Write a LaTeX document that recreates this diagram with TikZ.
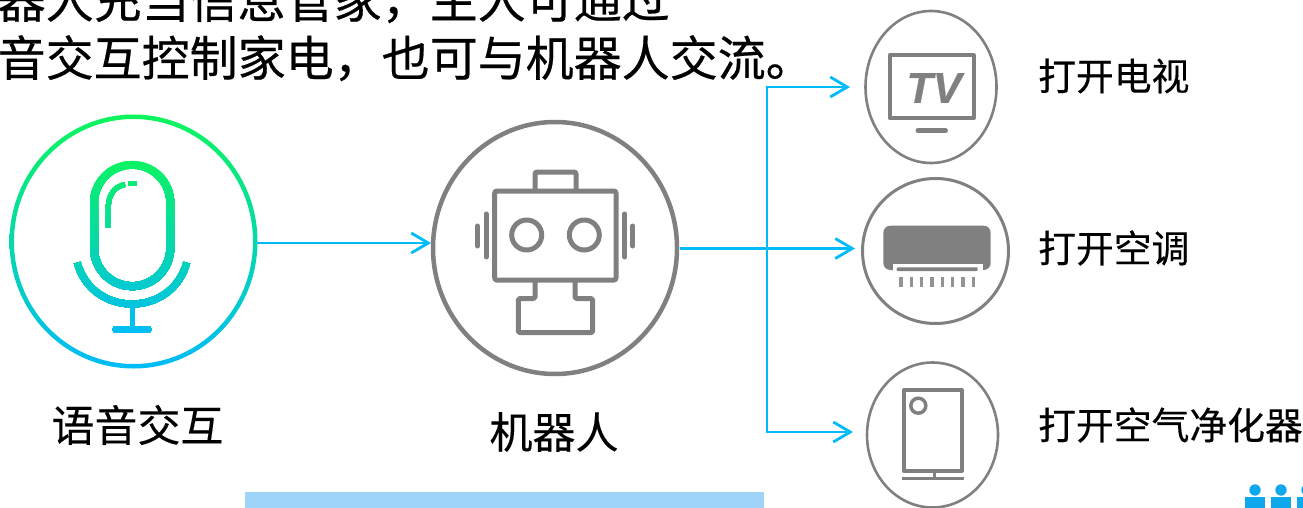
\documentclass[tikz,border=0pt]{standalone}
\usepackage{fontspec}
\setmainfont[FakeBold=0.25]{Noto Sans CJK SC}
\newfontfamily\headfont[FakeBold=0.45]{Noto Sans CJK SC}
\newfontfamily\tvfont[FakeBold=0.6]{Liberation Sans}
\usetikzlibrary{arrows.meta,shapes.geometric,calc}
\definecolor{flowblue}{HTML}{00BBF9}
\definecolor{icongray}{HTML}{808080}
\definecolor{micgreen}{HTML}{0DF55C}
\definecolor{barblue}{HTML}{9ED4F8}
\definecolor{peopleblue}{HTML}{10A8EC}
\tikzset{
  x=1pt,y=-1pt,
  ring/.style={ellipse,draw=icongray,outer sep=0pt,inner sep=0pt},
  flow/.style={draw=flowblue,line width=2.6pt},
  flowtip/.tip={Straight Barb[length=17pt,width=20pt,line width=2.8pt]},
  iconline/.style={draw=icongray,line width=5pt,line join=round},
  micline/.style={line join=round},
  lab/.style={anchor=center,inner sep=0pt,text=black}
}
\newcommand{\txt}[2]{{\fontsize{#1}{#1}\selectfont #2}}
\newcommand{\micstrokes}{%
  \draw[micline,line width=8pt] (94,203) arc[start angle=180,end angle=360,x radius=38.15,y radius=38.15] -- (170.3,248) arc[start angle=0,end angle=180,x radius=38.15,y radius=38.15] -- cycle;
  \draw[micline,line width=5pt] (108.3,227.3) -- (108.3,207) .. controls (108.3,195) and (115,186) .. (125,184.5);
  \draw[micline,line width=5pt] (128.3,183.5) -- (136.7,183.5);
  \draw[micline,line width=7pt] (77.3,262.7) .. controls (84,288) and (106,304) .. (132,304) .. controls (158,304) and (180,288) .. (186.7,262.7);
  \draw[micline,line width=5pt] (132,304) -- (132,329);
  \draw[micline,line width=7pt,line cap=round] (116,329.3) -- (148,329.3);
}
\begin{document}
\begin{tikzpicture}
\useasboundingbox (0,0) rectangle (1303,508);
\clip (0,0) rectangle (1303,508);

% header text
\node[lab,anchor=base west] (headone) at (-2.5,18) {\headfont\txt{48}{器人充当信息管家，主人可通过}};
\node[lab,anchor=base west] (headtwo) at (-2.5,76) {\headfont\txt{48}{音交互控制家电，也可与机器人交流。}};

% bottom bar and people
\fill[barblue] (245,492) rectangle (764,508);
\foreach \px in {1255,1281,1307}{
  \fill[peopleblue] (\px,490) circle[radius=5.7];
  \fill[peopleblue] (\px-10,497) rectangle (\px+10,508);
}

% voice circle
\node[ellipse,inner sep=0pt,outer sep=0pt,minimum width=246pt,minimum height=253pt] (mic) at (133.5,241.5) {};
\shade[even odd rule,top color=micgreen,bottom color=flowblue]
  (133.5,241.5) ellipse[x radius=124,y radius=127] (133.5,241.5) ellipse[x radius=119.5,y radius=122.5];
% microphone, gradient stroked by overlapping horizontal strips
\foreach \strip in {0,...,59}{
  \pgfmathsetmacro{\stripy}{158+\strip*3}
  \pgfmathsetmacro{\mixv}{max(0,min(100,100-(\stripy-150)/1.85))}
  \colorlet{stripcolor}{micgreen!\mixv!flowblue}
  \begin{scope}
    \clip (60,\stripy) rectangle (204,340);
    \begin{scope}[color=stripcolor]
      \micstrokes
    \end{scope}
  \end{scope}
}

% robot
\node[ring,line width=4.5pt,minimum width=244pt,minimum height=252pt] (robot) at (555,248) {};
\draw[iconline,rounded corners=2pt] (494.7,191) rectangle (616,280);
\draw[iconline,rounded corners=2pt] (535,191) -- (535,172) -- (576,172) -- (576,191);
\draw[iconline] (526.7,235) circle[radius=15];
\draw[iconline] (584.3,235) circle[radius=15];
\draw[iconline,line cap=round] (486,214) -- (486,257);
\draw[iconline,line cap=round] (477.3,226) -- (477.3,246);
\draw[iconline,line cap=round] (624.7,214) -- (624.7,257);
\draw[iconline,line cap=round] (632.7,226) -- (632.7,246);
\draw[iconline,rounded corners=1.5pt] (535,280) -- (535,298.5) -- (518.3,298.5) -- (518.3,332.7) -- (592.7,332.7) -- (592.7,298.5) -- (575,298.5) -- (575,280);

% TV
\node[ring,line width=2.6pt,minimum width=131pt,minimum height=152pt] (tv) at (931,87) {};
\draw[iconline,line width=4pt] (889.7,55.3) rectangle (973.7,118);
\draw[iconline,line width=5pt,line cap=round] (918,130.5) -- (945.5,130.5);
\node[lab,text=icongray] (tvtext) at (934,88) {\txt{43}{\tvfont\bfseries\itshape TV}};

% air conditioner
\node[ring,line width=3pt,minimum width=146pt,minimum height=145pt] (ac) at (935.5,251) {};
\fill[icongray,rounded corners=7pt] (883.3,225.7) rectangle (990.7,270);
\fill[white] (892.7,264) rectangle (983.3,273);
\fill[icongray,rounded corners=1pt] (896.7,267.3) rectangle (977.7,271);
\foreach \lx in {0,...,7}{
  \fill[icongray!85] ({901+10.33*\lx-1.6},276.7) rectangle ({901+10.33*\lx+1.6},286.7);
}

% purifier
\node[ring,line width=2.6pt,minimum width=131pt,minimum height=145pt] (pur) at (932.5,435) {};
\draw[iconline,line width=4pt] (903.7,390.3) rectangle (962,470.7);
\draw[iconline,line width=3.5pt] (918.3,405.7) circle[radius=7.5];
\draw[iconline,line width=3pt] (934.3,472) -- (934.3,478);
\draw[iconline,line width=3.5pt] (902,478.7) -- (964,478.7);

% connector ends
\coordinate (micout) at ($(mic.east)+(0,1.5)$);
\coordinate (robin) at (431,243);
\coordinate (robout) at (680,248.5);
\coordinate (acin) at (855,248.5);
\coordinate (jt) at (767,87);
\coordinate (jb) at (767,432);
\coordinate (tvin) at (850,87);
\coordinate (purin) at (853,432);

\draw[flow,-{flowtip}] (micout) -- (robin);
\draw[flow,-{flowtip}] (robout) -- (acin);
\draw[flow,{flowtip}-{flowtip}] (tvin) -- (jt) -- (jb) -- (purin);

% labels
\node[lab] (lvoice) at (137.5,425) {\txt{43}{语音交互}};
\node[lab] (lrobot) at (554,432) {\txt{43}{机器人}};
\node[lab,anchor=west] (ltv) at (1038,76) {\txt{37.8}{打开电视}};
\node[lab,anchor=west] (lac) at (1038,248) {\txt{37.8}{打开空调}};
\node[lab,anchor=west] (lpur) at (1038,425) {\txt{37.8}{打开空气净化器}};
\end{tikzpicture}
\end{document}
